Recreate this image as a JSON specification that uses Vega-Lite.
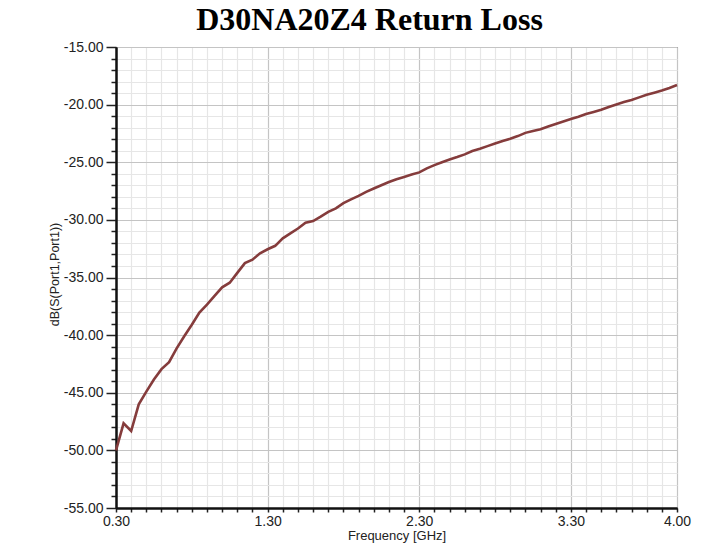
{
  "$schema": "https://vega.github.io/schema/vega-lite/v6.json",
  "autosize": "none",
  "width": 561,
  "height": 461,
  "padding": {"left": 116, "top": 47, "right": 39, "bottom": 37},
  "background": "white",
  "title": {
    "text": "D30NA20Z4 Return Loss",
    "font": "Liberation Serif",
    "fontSize": 32,
    "fontWeight": "bold",
    "color": "#000000",
    "anchor": "middle",
    "frame": "group",
    "dx": -27,
    "offset": 3
  },
  "config": {
    "view": {"stroke": "#333333", "strokeWidth": 1},
    "axis": {
      "labelFont": "Liberation Sans",
      "titleFont": "Liberation Sans",
      "labelColor": "#222222",
      "titleColor": "#222222",
      "domainColor": "#111111",
      "tickColor": "#222222",
      "labelFontSize": 14,
      "titleFontSize": 13,
      "titleFontWeight": "normal",
      "labelFlush": false,
      "labelOverlap": false
    }
  },
  "data": {
    "values": [
      {"f": 0.30, "db": -50.0},
      {"f": 0.35, "db": -47.65},
      {"f": 0.40, "db": -48.32},
      {"f": 0.45, "db": -46.0},
      {"f": 0.50, "db": -44.9},
      {"f": 0.55, "db": -43.85},
      {"f": 0.60, "db": -42.95},
      {"f": 0.65, "db": -42.35},
      {"f": 0.70, "db": -41.15},
      {"f": 0.75, "db": -40.1},
      {"f": 0.80, "db": -39.1},
      {"f": 0.85, "db": -38.05},
      {"f": 0.90, "db": -37.35},
      {"f": 0.95, "db": -36.6},
      {"f": 1.00, "db": -35.85},
      {"f": 1.05, "db": -35.45},
      {"f": 1.10, "db": -34.6},
      {"f": 1.15, "db": -33.75},
      {"f": 1.20, "db": -33.45},
      {"f": 1.25, "db": -32.9},
      {"f": 1.30, "db": -32.55},
      {"f": 1.35, "db": -32.25},
      {"f": 1.40, "db": -31.6},
      {"f": 1.45, "db": -31.17},
      {"f": 1.50, "db": -30.75},
      {"f": 1.55, "db": -30.25},
      {"f": 1.60, "db": -30.1},
      {"f": 1.65, "db": -29.72},
      {"f": 1.70, "db": -29.3},
      {"f": 1.75, "db": -29.0},
      {"f": 1.80, "db": -28.55},
      {"f": 1.85, "db": -28.22},
      {"f": 1.90, "db": -27.92},
      {"f": 1.95, "db": -27.57},
      {"f": 2.00, "db": -27.28},
      {"f": 2.05, "db": -27.0},
      {"f": 2.10, "db": -26.72},
      {"f": 2.15, "db": -26.47},
      {"f": 2.20, "db": -26.27},
      {"f": 2.25, "db": -26.07},
      {"f": 2.30, "db": -25.88},
      {"f": 2.35, "db": -25.53},
      {"f": 2.40, "db": -25.25},
      {"f": 2.45, "db": -25.0},
      {"f": 2.50, "db": -24.76},
      {"f": 2.55, "db": -24.55},
      {"f": 2.60, "db": -24.32},
      {"f": 2.65, "db": -24.03},
      {"f": 2.70, "db": -23.83},
      {"f": 2.75, "db": -23.6},
      {"f": 2.80, "db": -23.37},
      {"f": 2.85, "db": -23.15},
      {"f": 2.90, "db": -22.96},
      {"f": 2.95, "db": -22.73},
      {"f": 3.00, "db": -22.45},
      {"f": 3.05, "db": -22.28},
      {"f": 3.10, "db": -22.13},
      {"f": 3.15, "db": -21.9},
      {"f": 3.20, "db": -21.68},
      {"f": 3.25, "db": -21.47},
      {"f": 3.30, "db": -21.25},
      {"f": 3.35, "db": -21.05},
      {"f": 3.40, "db": -20.82},
      {"f": 3.45, "db": -20.63},
      {"f": 3.50, "db": -20.45},
      {"f": 3.55, "db": -20.2},
      {"f": 3.60, "db": -19.98},
      {"f": 3.65, "db": -19.78},
      {"f": 3.70, "db": -19.59},
      {"f": 3.75, "db": -19.37},
      {"f": 3.80, "db": -19.14},
      {"f": 3.85, "db": -18.96},
      {"f": 3.90, "db": -18.78},
      {"f": 3.95, "db": -18.55},
      {"f": 4.00, "db": -18.3}
    ]
  },
  "resolve": {"axis": {"x": "independent", "y": "independent"}},
  "layer": [
    {
      "mark": {"type": "line", "strokeOpacity": 0},
      "encoding": {
        "x": {
          "field": "f", "type": "quantitative",
          "scale": {"domain": [0.3, 4.0], "nice": false, "zero": false},
          "axis": {
            "orient": "bottom",
            "values": [0.4,0.5,0.6,0.7,0.8,0.9,1.0,1.1,1.2,1.4,1.5,1.6,1.7,1.8,1.9,2.0,2.1,2.2,2.4,2.5,2.6,2.7,2.8,2.9,3.0,3.1,3.2,3.4,3.5,3.6,3.7,3.8,3.9],
            "labels": false,
            "title": null,
            "grid": true,
            "gridColor": "#e6e6e6",
            "gridWidth": 1.2,
            "ticks": true,
            "tickSize": 4,
            "tickWidth": 1.5,
            "domain": true,
            "domainWidth": 2
          }
        },
        "y": {
          "field": "db", "type": "quantitative",
          "scale": {"domain": [-55, -15], "nice": false, "zero": false},
          "axis": {
            "orient": "left",
            "values": [-54,-53,-52,-51,-49,-48,-47,-46,-44,-43,-42,-41,-39,-38,-37,-36,-34,-33,-32,-31,-29,-28,-27,-26,-24,-23,-22,-21,-19,-18,-17,-16],
            "labels": false,
            "title": null,
            "grid": true,
            "gridColor": "#e6e6e6",
            "gridWidth": 1.2,
            "ticks": true,
            "tickSize": 5,
            "tickWidth": 1.5,
            "domain": true,
            "domainWidth": 2
          }
        }
      }
    },
    {
      "mark": {"type": "line", "color": "#853c3c", "strokeWidth": 2.6},
      "encoding": {
        "x": {
          "field": "f", "type": "quantitative",
          "scale": {"domain": [0.3, 4.0], "nice": false, "zero": false},
          "axis": {
            "orient": "bottom",
            "values": [0.3, 1.3, 2.3, 3.3, 4.0],
            "format": ".2f",
            "title": "Frequency [GHz]",
            "grid": true,
            "gridColor": "#c4c4c4",
            "gridWidth": 1.2,
            "ticks": true,
            "tickSize": 4,
            "tickWidth": 1.5,
            "labelPadding": 2,
            "titlePadding": 1,
            "domain": true,
            "domainWidth": 2
          }
        },
        "y": {
          "field": "db", "type": "quantitative",
          "scale": {"domain": [-55, -15], "nice": false, "zero": false},
          "axis": {
            "orient": "left",
            "values": [-55, -50, -45, -40, -35, -30, -25, -20, -15],
            "format": ".2f",
            "labelExpr": "replace(format(datum.value, '.2f'), '\u2212', '-')",
            "title": "dB(S(Port1,Port1))",
            "titleX": -55,
            "titleY": 227,
            "titleFontSize": 12.5,
            "grid": true,
            "gridColor": "#c4c4c4",
            "gridWidth": 1.2,
            "ticks": true,
            "tickSize": 10,
            "tickWidth": 1.5,
            "labelPadding": 3,
            "domain": true,
            "domainWidth": 2
          }
        }
      }
    }
  ]
}
